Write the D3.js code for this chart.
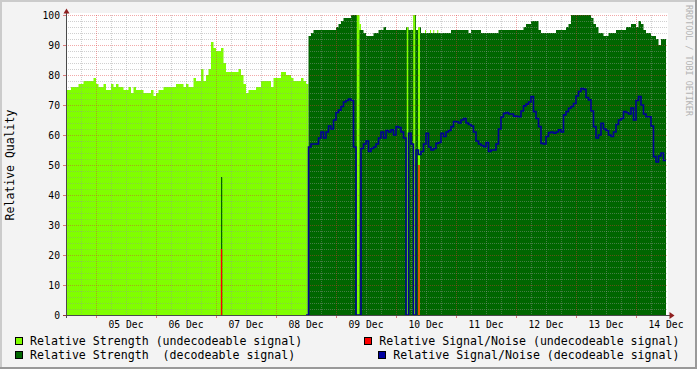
<!DOCTYPE html>
<html><head><meta charset="utf-8">
<script src="https://cdn.jsdelivr.net/npm/d3@7"></script>
<style>
html,body{margin:0;padding:0;background:#f3f3f3;}
svg{display:block;}
text{font-family:"DejaVu Sans Mono", monospace; white-space:pre;}
</style></head><body>
<svg id="c" width="697" height="369"></svg>
<script>
// ---------------- DATA ----------------
// hourly samples, hour 0 = 04 Dec 00:00
const strengthUndecodeable = [ // hours 0..96
  75,75,76,76,76,77,77,78,78,78,
  78,79,77,76,76,77,75,75,77,76,
  77,76,76,75,75,76,74,76,75,75,
  75,74,74,74,75,73,74,75,75,76,
  76,76,76,76,77,77,77,76,77,76,
  76,79,78,78,82,78,80,82,91,89,
  88,88,89,84,81,81,81,81,81,82,
  80,77,74,75,75,75,76,76,78,78,
  78,78,76,79,79,79,81,81,80,80,
  79,78,78,78,79,78,77];
const strengthDecodeableStart = 97;
const strengthDecodeable = [ // hours 97..239
  93,94,95,95,95,95,95,95,95,95,
  95,96,97,98,99,99,99,100,100,100,
  95,95,94,93,93,93,94,94,95,95,
  96,95,95,95,95,95,95,95,95,96,
  95,95,100,95,96,94,94,94,94,94,
  94,94,94,94,94,94,94,95,95,95,
  95,95,95,95,94,95,95,95,95,94,
  94,94,94,94,94,94,95,95,95,95,
  95,95,95,95,95,95,96,97,97,98,
  98,98,95,94,94,94,94,94,94,95,
  95,95,95,96,97,100,100,100,100,100,
  100,100,100,99,97,96,94,94,93,93,
  94,94,94,95,95,95,95,96,96,97,
  97,96,98,97,95,94,94,93,93,92,
  90,92,92];
const snrDecodeableStart = 96;
const snrDecodeable = [ // hours 96..239
  0,56,57,57,57,59,61,59,61,63,
  62,65,67.5,68.3,69.5,71,71.5,72,71.5,56,
  0,0,55.5,57,58,54.5,55.5,56,57,59,
  61,59,61.5,61,61.7,60,62.8,62.5,61,59,
  0,60.6,57,0,55,53.5,54.5,57,60.6,56,
  55,55.5,57.2,57.5,60.6,59.5,61,61.5,62.8,64.5,
  64.4,64,65,65.5,64,63.5,63,61,58,57,
  56.5,56.1,57.5,54.5,55,55,57,62,66,67.2,
  67.5,67,67,66.3,66.2,66.1,68,69.7,70.3,71,
  72.8,67.8,65.5,62.8,57.2,57,59.5,60.8,61,60.6,
  61,61.7,61,66.7,67.8,68.9,69.5,70.5,73,74.5,
  75.5,75.2,72.5,71.7,68,62.8,59,60,63.9,62,
  61.5,60,59.5,61,63.5,65,65.5,67.8,67.5,67,
  69,65,71.5,72.8,70,67,66.1,66.1,63,52.8,
  51,53,54,51.5];
// undecodeable samples inside the decodeable period
const eventStart    = [116.3, 136.3, 138.9, 140.8];
const eventEnd      = [117.4, 136.9, 139.7, 141.6];
const eventStrength = [100, 96, 100, 96];
// short undecodeable samples peeking above the decodeable area
const speckStart    = [117.4, 141.9, 143.6, 145.6, 146.9, 148.5];
const speckEnd      = [118.0, 142.3, 144.0, 146.0, 147.3, 148.9];
const speckStrength = [97, 95, 95, 95, 95, 95];
// short decodeable sample inside the undecodeable period
const decodeSpikeHour = [62.0], decodeSpikeEnd = [62.5], decodeSpikeStrength = [46];
// undecodeable signal/noise spikes
const snrUndecodeableHour  = [62.2, 141.2];
const snrUndecodeableValue = [22, 50];

const dayLabels = ["05 Dec","06 Dec","07 Dec","08 Dec","09 Dec","10 Dec","11 Dec","12 Dec","13 Dec","14 Dec"];
const yTickValues = [0,10,20,30,40,50,60,70,80,90,100];
const legendLabels = ["Relative Strength (undecodeable signal)","Relative Strength  (decodeable signal)",
                      "Relative Signal/Noise (undecodeable signal)","Relative Signal/Noise (decodeable signal)"];
const legendColors = ["#80ff00","#006600","#ff0000","#0000a0"];

// ---------------- CHART ----------------
const W = 697, H = 369;
const HOUR = 3600e3;
const start = Date.UTC(2008, 11, 4);
const t = h => new Date(start + h * HOUR);
const x = d3.scaleUtc().domain([t(0), t(240)]).range([66, 666]);
const y = d3.scaleLinear().domain([0, 100]).range([315, 15]);
const svg = d3.select("#c");

svg.append("rect").attr("width", W).attr("height", H).attr("fill", "#f3f3f3");
// 3D frame
svg.append("rect").attr("x",0).attr("y",0).attr("width",W).attr("height",2).attr("fill","#cbcbcb");
svg.append("rect").attr("x",0).attr("y",0).attr("width",2).attr("height",H).attr("fill","#cbcbcb");
svg.append("rect").attr("x",0).attr("y",H-2).attr("width",W).attr("height",2).attr("fill","#999");
svg.append("rect").attr("x",W-2).attr("y",0).attr("width",2).attr("height",H).attr("fill","#999");

// canvas
svg.append("rect").attr("x", 66).attr("y", 13).attr("width", 602).attr("height", 302).attr("fill", "#fff");

const area = d3.area().curve(d3.curveStepAfter)
  .x(d => x(t(d.h))).y0(y(0)).y1(d => y(d.v));
function pts(arr, h0) {
  const p = arr.map((v, i) => ({h: h0 + i, v}));
  p.push({h: h0 + arr.length, v: arr[arr.length - 1]});
  return p;
}
svg.append("path").attr("d", area(pts(strengthUndecodeable, 0))).attr("fill", legendColors[0]);
svg.append("path").attr("d", area(pts(strengthDecodeable, strengthDecodeableStart))).attr("fill", legendColors[1]);

svg.selectAll("rect.ev").data(eventStart).join("rect").attr("class","ev")
  .attr("x", (d) => x(t(d)))
  .attr("width", (d,i) => x(t(eventEnd[i])) - x(t(d)))
  .attr("y", (d,i) => y(eventStrength[i]))
  .attr("height", (d,i) => y(0) - y(eventStrength[i]))
  .attr("fill", legendColors[0]);
svg.selectAll("rect.sp").data(speckStart).join("rect").attr("class","sp")
  .attr("x", d => x(t(d)))
  .attr("width", (d,i) => x(t(speckEnd[i])) - x(t(d)))
  .attr("y", (d,i) => y(speckStrength[i]))
  .attr("height", (d,i) => y(strengthDecodeable[Math.floor(d) - strengthDecodeableStart]) - y(speckStrength[i]))
  .attr("fill", legendColors[0]);
svg.selectAll("rect.ds").data(decodeSpikeHour).join("rect").attr("class","ds")
  .attr("x", d => x(t(d)))
  .attr("width", (d,i) => x(t(decodeSpikeEnd[i])) - x(t(d)))
  .attr("y", (d,i) => y(decodeSpikeStrength[i]))
  .attr("height", (d,i) => y(0) - y(decodeSpikeStrength[i]))
  .attr("fill", legendColors[1]);

// grid
const g = svg.append("g");
const minorCol = "rgba(150,150,150,0.45)", majorCol = "rgba(225,50,50,0.42)";
for (let v = 2; v <= 100; v += 2) {
  const yy = Math.round(y(v)) + 0.5;
  g.append("line").attr("x1", 66).attr("x2", 667).attr("y1", yy).attr("y2", yy)
    .attr("stroke", v % 10 === 0 ? majorCol : minorCol).attr("stroke-dasharray", "1,1");
}
for (let h = 6; h < 240; h += 6) {
  const xx = Math.round(x(t(h))) + 0.5;
  const major = (h - 12) % 24 === 0;
  g.append("line").attr("x1", xx).attr("x2", xx).attr("y1", 15).attr("y2", 315)
    .attr("stroke", major ? majorCol : minorCol).attr("stroke-dasharray", "1,1");
  if (major) g.append("line").attr("x1", xx).attr("x2", xx).attr("y1", 315).attr("y2", 318)
    .attr("stroke", "rgba(200,40,40,0.6)");
}

// red S/N spikes
svg.selectAll("line.rs").data(snrUndecodeableHour).join("line").attr("class","rs")
  .attr("x1", d => x(t(d))).attr("x2", d => x(t(d)))
  .attr("y1", y(0)).attr("y2", (d,i) => y(snrUndecodeableValue[i]))
  .attr("stroke", legendColors[2]).attr("stroke-width", 1.3);

// blue S/N line
const line = d3.line().curve(d3.curveStepAfter).x(d => x(t(d.h))).y(d => y(d.v));
svg.append("path").attr("d", line(pts(snrDecodeable, snrDecodeableStart)))
  .attr("fill", "none").attr("stroke", "#000094").attr("stroke-width", 1.6);

// axes
svg.append("line").attr("x1", 66.5).attr("x2", 66.5).attr("y1", 13).attr("y2", 318).attr("stroke", "#4a4a4a");
svg.append("line").attr("x1", 63).attr("x2", 670).attr("y1", 315.5).attr("y2", 315.5).attr("stroke", "#4a4a4a");
yTickValues.forEach(v => {
  svg.append("line").attr("x1", 63).attr("x2", 66).attr("y1", Math.round(y(v)) + 0.5).attr("y2", Math.round(y(v)) + 0.5)
    .attr("stroke", "rgba(200,40,40,0.6)");
});
svg.append("path").attr("d", "M63.5,13.5 L66.5,8.5 L69.5,13.5 Z").attr("fill", "#8f1f1f");
svg.append("path").attr("d", "M669.5,312 L674.5,315.5 L669.5,319 Z").attr("fill", "#8f1f1f");

// tick labels
svg.selectAll("text.yl").data(yTickValues).join("text").attr("class","yl")
  .attr("x", 60).attr("y", d => y(d) + 3.6).attr("text-anchor", "end")
  .attr("font-size", "9.7px").attr("fill", "#000").text(d => d);
svg.selectAll("text.xl").data(dayLabels).join("text").attr("class","xl")
  .attr("x", (d,i) => x(t(24 * (i + 1)))).attr("y", 328).attr("text-anchor", "middle")
  .attr("font-size", "9.7px").attr("fill", "#000").text(d => d);

// y title
svg.append("text").attr("transform", "translate(14,165) rotate(-90)").attr("text-anchor", "middle")
  .attr("font-size", "11.5px").attr("fill", "#000").text("Relative Quality");
// watermark
svg.append("text").attr("transform", "translate(686,5) rotate(90)").attr("text-anchor", "start")
  .attr("font-size", "8.4px").attr("fill", "#b4b4b4").text("RRDTOOL / TOBI OETIKER");

// legend
const rowY = [345, 359];
[0, 1].forEach(i => {
  svg.append("rect").attr("x", 15.5).attr("y", rowY[i] - 7.5).attr("width", 7).attr("height", 7)
    .attr("fill", legendColors[i]).attr("stroke", "#000");
  svg.append("text").attr("x", 30).attr("y", rowY[i]).attr("font-size", "11.6px").attr("fill", "#000")
    .text(legendLabels[i]);
});
[2, 3].forEach((i, r) => {
  const tx = svg.append("text").attr("x", 679.5).attr("y", rowY[r]).attr("text-anchor", "end")
    .attr("font-size", "11.6px").attr("fill", "#000").text(legendLabels[i]);
  const len = tx.node().getComputedTextLength();
  svg.append("rect").attr("x", Math.round(679.5 - len - 15) + 0.5).attr("y", rowY[r] - 7.5).attr("width", 7).attr("height", 7)
    .attr("fill", legendColors[i]).attr("stroke", "#000");
});
</script>
</body></html>
